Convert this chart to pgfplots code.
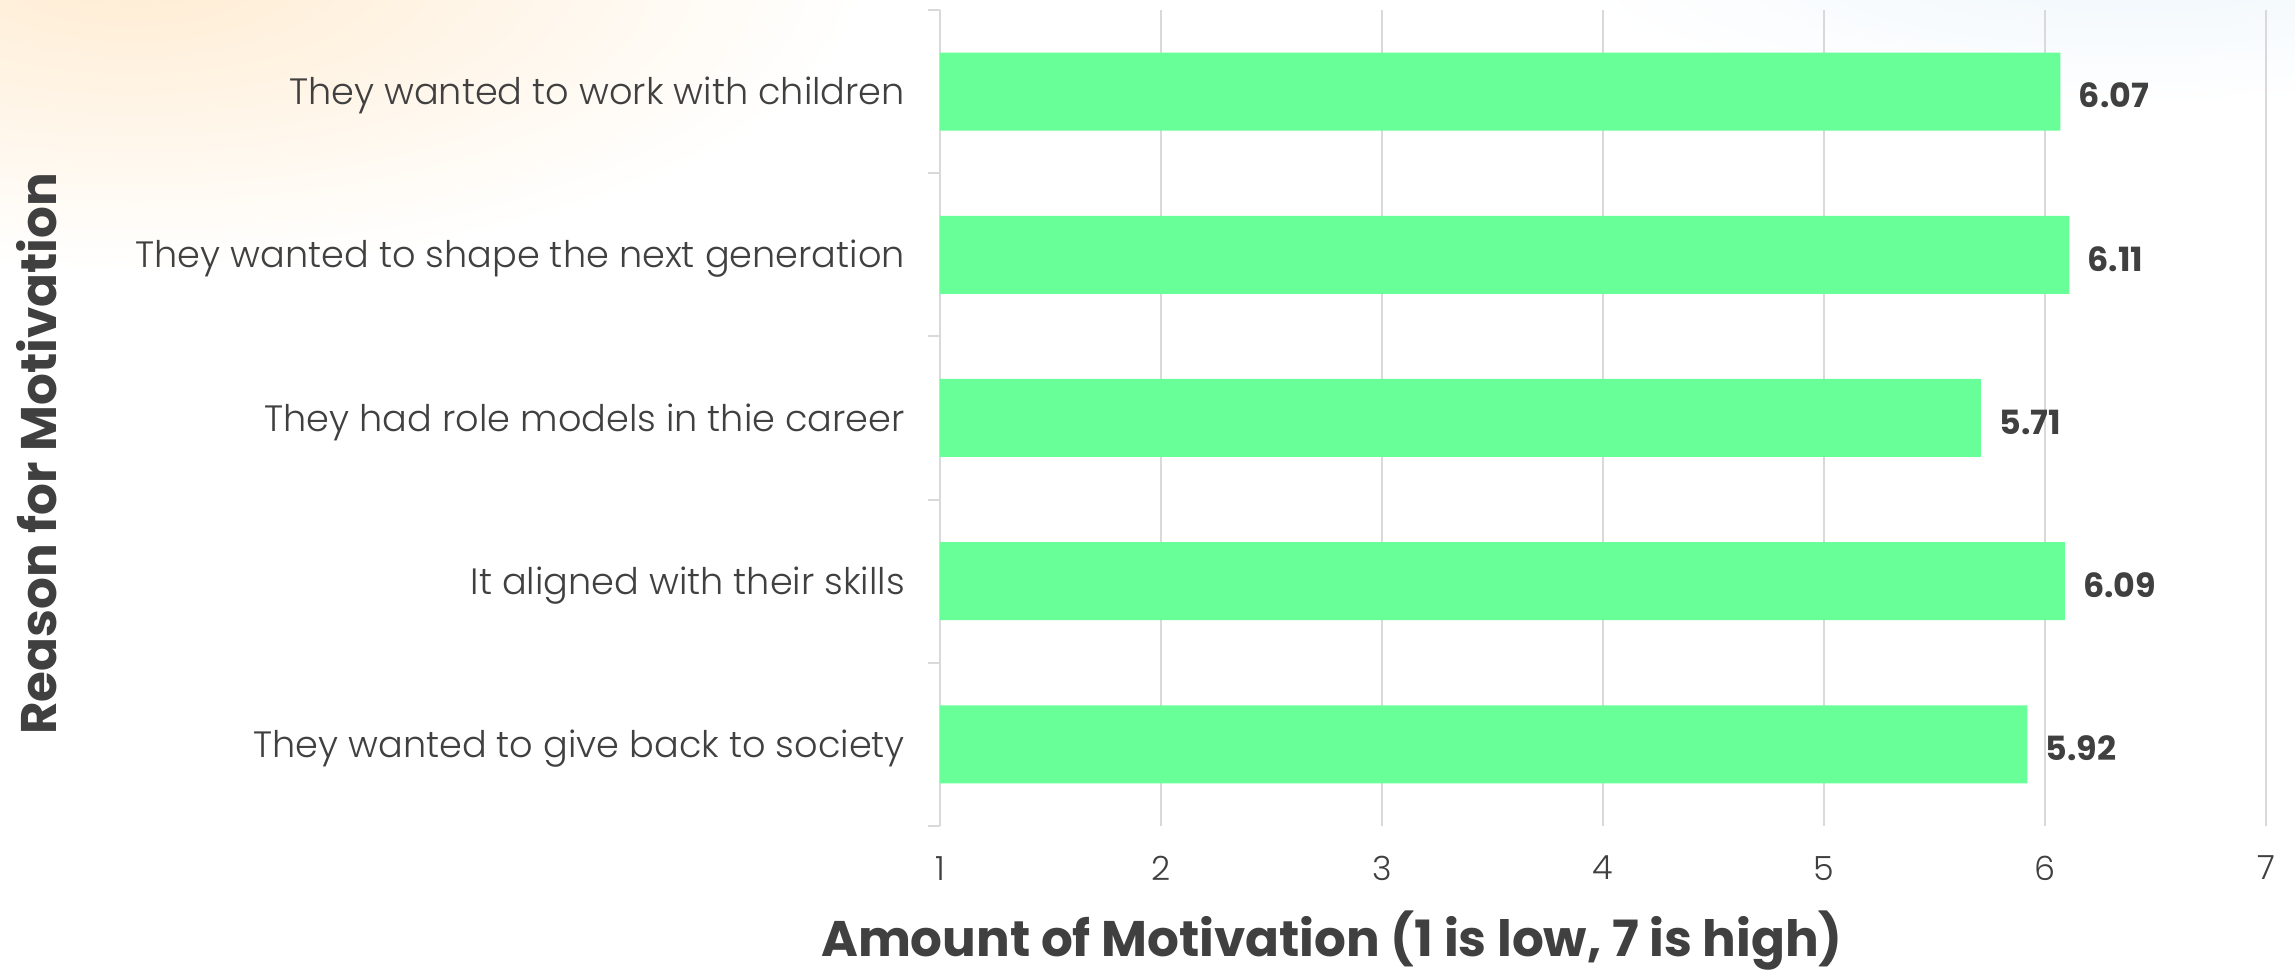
\documentclass[border=0pt]{standalone}
\usepackage{fontspec}
\setmainfont{Poppins}[UprightFont=* Light, BoldFont=* Bold]
\usepackage{pgfplots}
\pgfplotsset{compat=1.18}
\definecolor{bargreen}{RGB}{104,255,153}
\definecolor{txt}{RGB}{64,64,64}
\definecolor{gridc}{RGB}{217,217,217}
\definecolor{peach}{RGB}{255,236,210}
\definecolor{sky}{RGB}{240,247,252}
\begin{document}
\begin{tikzpicture}[x=1pt,y=1pt]
\useasboundingbox (0,0) rectangle (688.5,291.3);
\fill[white] (0,0) rectangle (688.5,291.3);
\shade[inner color=peach, outer color=white] (40,300) ellipse (220 and 90);
\shade[inner color=sky, outer color=white] (640,300) ellipse (170 and 40);
\begin{axis}[
  at={(282pt,43.5pt)}, anchor=south west,
  scale only axis, width=397.8pt, height=244.8pt,
  xbar, bar width=23.4pt, bar shift=0pt,
  xmin=1, xmax=7, ymin=-0.5, ymax=4.5,
  xtick={1,2,3,4,5,6,7},
  ytick={0,1,2,3,4},
  yticklabels={They wanted to give back to society, It aligned with their skills, They had role models in thie career, They wanted to shape the next generation, They wanted to work with children},
  minor ytick={-0.5,0.5,1.5,2.5,3.5,4.5},
  major tick length=0pt, minor tick length=3.6pt,
  tick align=outside,
  ytick pos=left, xtick pos=bottom,
  minor tick style={gridc, line width=0.6pt},
  axis line style={draw=none},
  xmajorgrids, major grid style={gridc, line width=0.6pt},
  /pgf/number format/assume math mode=true,
  tick label style={font=\fontsize{10}{12}\selectfont, text=txt},
  yticklabel style={font=\fontsize{11}{13}\selectfont, xshift=-7pt, yshift=-1.2pt},
  xticklabel style={yshift=-5.5pt},
  nodes near coords,
  nodes near coords style={font=\bfseries\fontsize{10}{12}\selectfont, text=txt, anchor=west, xshift=2pt, yshift=-1.2pt},
  point meta=x,
  every node near coord/.append style={/pgf/number format/.cd, fixed, fixed zerofill, precision=2},
  xlabel={Amount of Motivation (1 is low, 7 is high)},
  ylabel={Reason for Motivation},
  xlabel style={font=\bfseries\fontsize{15}{18}\selectfont, text=txt, at={(axis description cs:0.2956,-0.140)}, anchor=center},
  ylabel style={font=\bfseries\fontsize{15}{18}\selectfont, text=txt, at={(axis description cs:-0.681,0.456)}, anchor=center, rotate=0},
  clip=false,
]
\addplot[fill=bargreen, draw=none] coordinates {
  (5.92,0) (6.09,1) (5.71,2) (6.11,3) (6.07,4)
};
\end{axis}
\end{tikzpicture}
\end{document}
